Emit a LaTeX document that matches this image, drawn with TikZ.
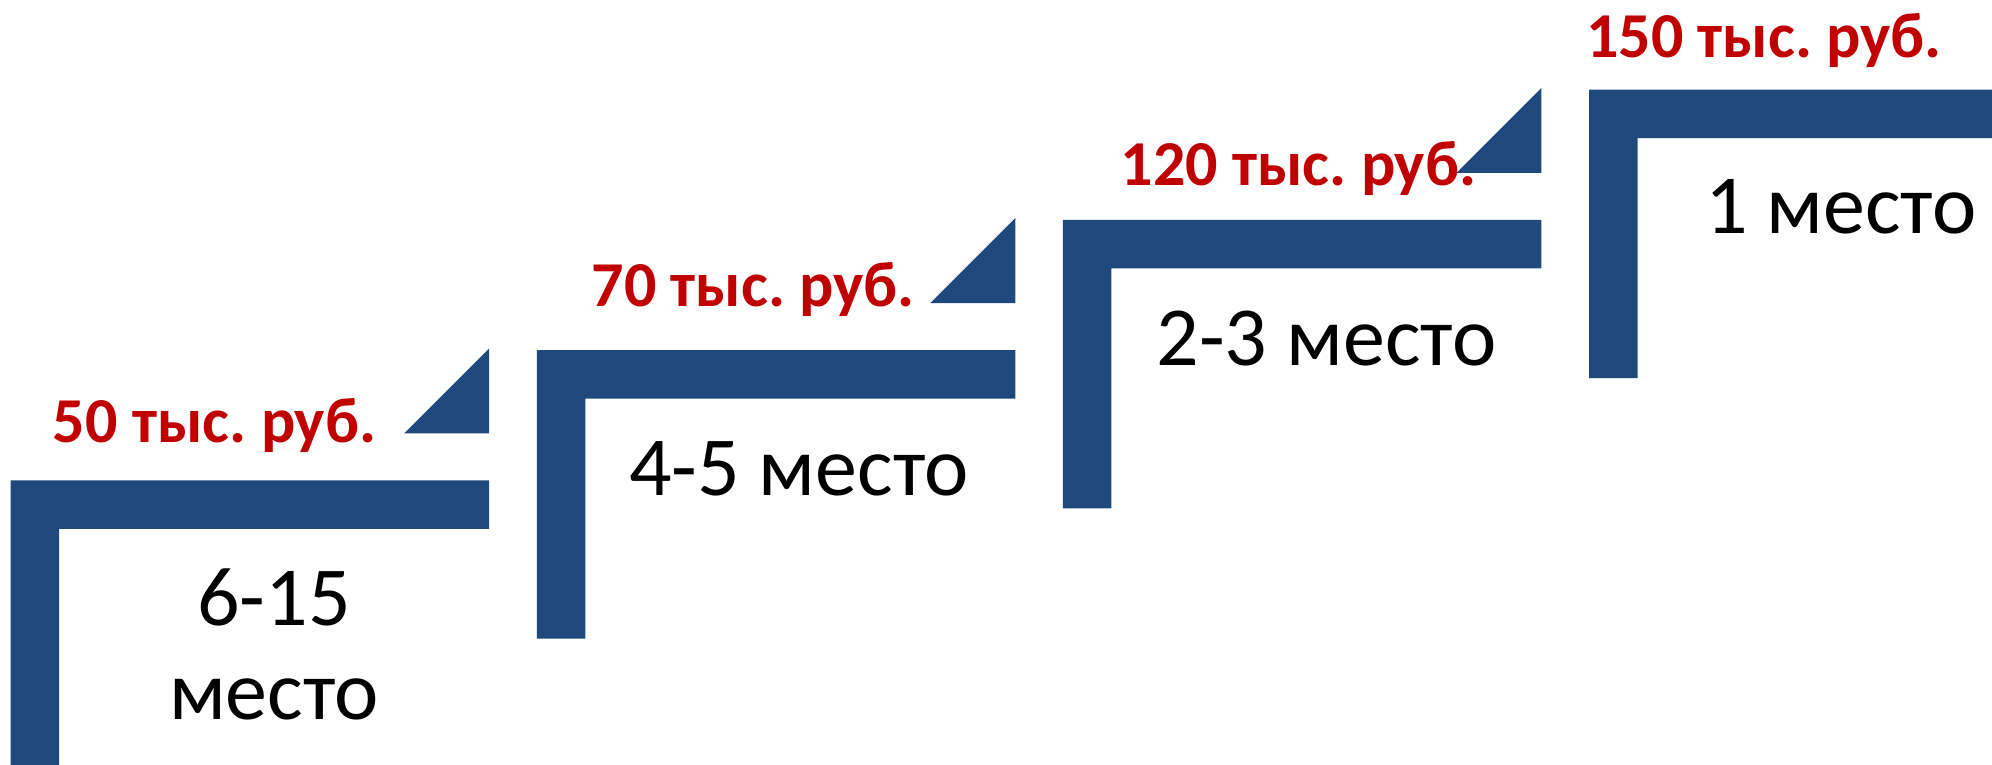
\documentclass[tikz,border=0pt]{standalone}
\usepackage{fontspec}
\setmainfont{Carlito}
\frenchspacing

\tikzset{
  stepbar/.style={fill={rgb, 255:red, 31; green, 73; blue, 125 }},
  prize/.style={anchor=base,inner sep=0.75pt,text={rgb, 255:red, 192; green, 0; blue, 0 },font=\fontsize{32}{38}\selectfont\bfseries},
  place/.style={anchor=base,inner sep=0.75pt,align=center,font=\fontsize{42}{46.7}\selectfont},
}

\begin{document}
\begin{tikzpicture}[x=0.5pt,y=0.5pt,yscale=-1]
\useasboundingbox (0,0) rectangle (1992,765);
\clip (0,0) rectangle (1992,765);

%Shape: Step [6-15]
\fill [stepbar] (10.7,480.3) -- (489.2,480.3) -- (489.2,528.8) -- (59.2,528.8) -- (59.2,768.8) -- (10.7,768.8) -- cycle ;
%Shape: Right Triangle
\fill [stepbar] (489.2,433.3) -- (489.2,348.3) -- (404.2,433.3) -- cycle ;
%Shape: Step [4-5]
\fill [stepbar] (536.8,350.1) -- (1015.3,350.1) -- (1015.3,398.6) -- (585.3,398.6) -- (585.3,638.6) -- (536.8,638.6) -- cycle ;
%Shape: Right Triangle
\fill [stepbar] (1015.3,303.1) -- (1015.3,218.1) -- (930.3,303.1) -- cycle ;
%Shape: Step [2-3]
\fill [stepbar] (1062.9,219.9) -- (1541.4,219.9) -- (1541.4,268.4) -- (1111.4,268.4) -- (1111.4,508.4) -- (1062.9,508.4) -- cycle ;
%Shape: Right Triangle
\fill [stepbar] (1541.4,172.9) -- (1541.4,87.9) -- (1456.4,172.9) -- cycle ;
%Shape: Step [1]
\fill [stepbar] (1589,89.7) -- (2067.5,89.7) -- (2067.5,138.2) -- (1637.5,138.2) -- (1637.5,378.2) -- (1589,378.2) -- cycle ;

% Text Node
\draw (214.5,442.7) node [prize] (prize50) {50 тыс. руб.};
% Text Node
\draw (274,719) node [place] (place615) {6-15\\место};
% Text Node
\draw (753.3,306.7) node [prize] (prize70) {70 тыс. руб.};
% Text Node
\draw (799,495.7) node [place] (place45) {4-5 место};
% Text Node
\draw (1298.5,185.7) node [prize] (prize120) {120 тыс. руб.};
% Text Node
\draw (1326.5,365.7) node [place] (place23) {2-3 место};
% Text Node
\draw (1764,57.3) node [prize] (prize150) {150 тыс. руб.};
% Text Node
\draw (1841,233.3) node [place] (place1) {1 место};

\end{tikzpicture}
\end{document}
